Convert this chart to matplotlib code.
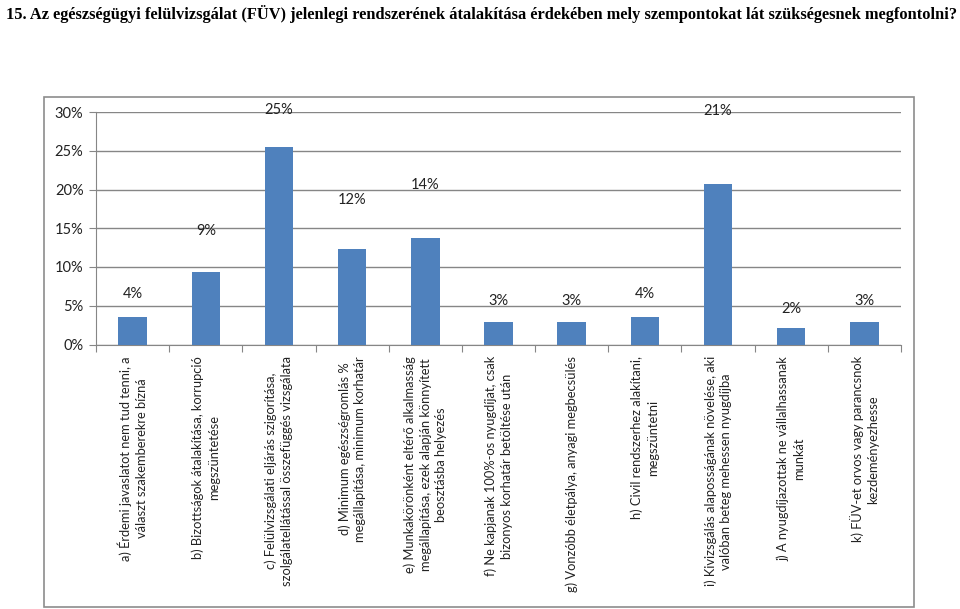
import numpy as np
import matplotlib.pyplot as plt
from matplotlib.patches import Rectangle

title = ("15. Az egészségügyi felülvizsgálat (FÜV) jelenlegi rendszerének "
         "átalakítása érdekében mely szempontokat lát szükségesnek megfontolni?")

categories = [
    "a) Érdemi javaslatot nem tud tenni, a\nválaszt szakemberekre bízná",
    "b) Bizottságok átalakítása, korrupció\nmegszüntetése",
    "c) Felülvizsgálati eljárás szigorítása,\nszolgálatellátással összefüggés vizsgálata",
    "d) Minimum egészségromlás %\nmegállapítása, minimum korhatár",
    "e) Munkakörönként eltérő alkalmasság\nmegállapítása, ezek alapján könnyített\nbeosztásba helyezés",
    "f) Ne kapjanak 100%-os nyugdíjat, csak\nbizonyos korhatár betöltése után",
    "g) Vonzóbb életpálya, anyagi megbecsülés",
    "h) Civil rendszerhez alakítani,\nmegszüntetni",
    "i) Kivizsgálás alaposságának növelése, aki\nvalóban beteg mehessen nyugdíjba",
    "j) A nyugdíjazottak ne vállalhassanak\nmunkát",
    "k) FÜV-et orvos vagy parancsnok\nkezdeményezhesse",
]
values = [3.5, 9.4, 25.5, 12.3, 13.7, 2.85, 2.85, 3.5, 20.7, 2.1, 2.85]
value_labels = ["4%", "9%", "25%", "12%", "14%", "3%", "3%", "4%", "21%", "2%", "3%"]

font = "Lato"
grey = "#868686"

fig = plt.figure(figsize=(9.6, 6.09), dpi=100)
W, H = 960, 609

fig.text(6 / W, 1 - 14 / H, title, family="Liberation Serif", fontweight="bold",
         fontsize=11.8, ha="left", va="center")

# chart area border
fig.patches.append(Rectangle((44 / W, 1 - 607 / H), (914 - 44) / W, (607 - 97) / H,
                             transform=fig.transFigure, fill=False,
                             edgecolor="#8c8c8c", linewidth=1.2))

ax = fig.add_axes([96 / W, 1 - 344.5 / H, (901 - 96) / W, (344.5 - 112) / H])
x = np.arange(len(values))
ax.bar(x, values, width=0.39, color="#4f81bd", zorder=3)
ax.set_xlim(-0.5, len(values) - 0.5)
ax.set_ylim(0, 30)
ax.set_yticks(range(0, 31, 5))
ax.set_yticklabels([f"{t}%" for t in range(0, 31, 5)], family=font, fontsize=10.5, color="#222222")
ax.yaxis.grid(True, color=grey, linewidth=1)
ax.set_axisbelow(True)
for s in ["top", "right"]:
    ax.spines[s].set_visible(False)
for s in ["left", "bottom"]:
    ax.spines[s].set_color(grey)
ax.tick_params(axis="y", length=5, color=grey, pad=4)

# category boundary ticks on x axis
ax.set_xticks(np.arange(-0.5, len(values), 1.0))
ax.set_xticklabels([])
ax.tick_params(axis="x", length=5, color=grey)

for xi, lab in zip(x, categories):
    ax.text(xi, -1.5, lab, rotation=90, ha="center", va="top", multialignment="center",
            family=font, fontsize=9.3, color="#222222", linespacing=1.35)

for xi, v, lab in zip(x, values, value_labels):
    ly = min(v * 1.375 + 1.7, 30.3)
    ax.text(xi, ly, lab, ha="center", va="center", family=font, fontsize=10.5,
            color="#222222", clip_on=False)

fig.savefig("out.png", dpi=100)
